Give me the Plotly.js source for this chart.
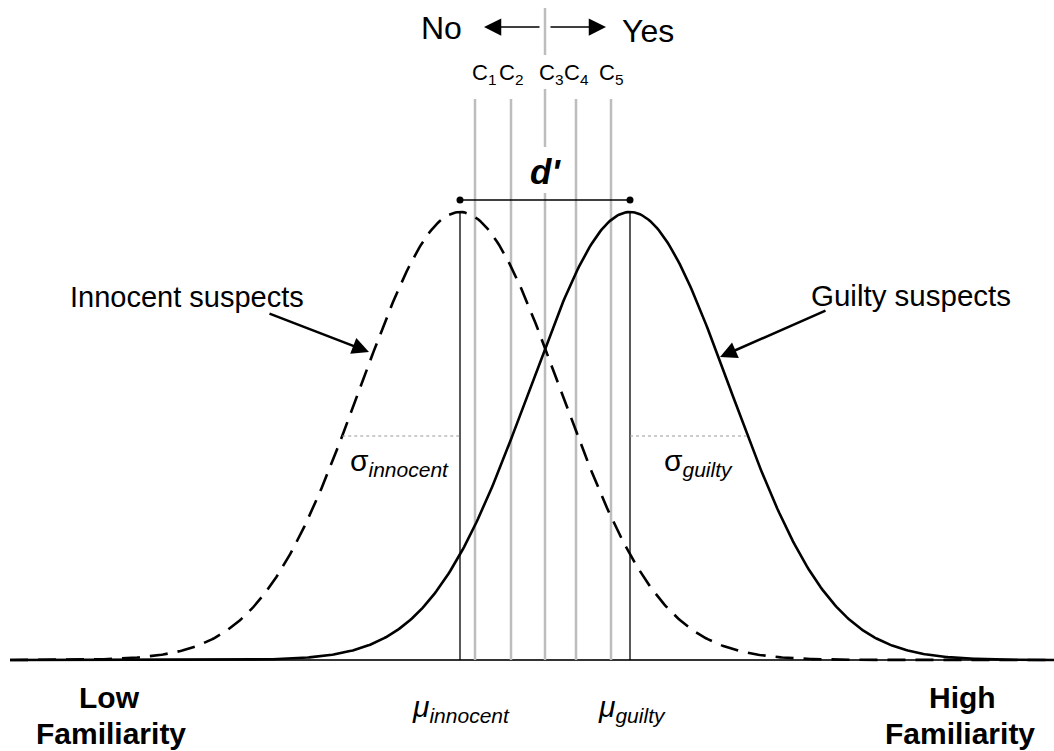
<!DOCTYPE html>
<html>
<head>
<meta charset="utf-8">
<script src="https://cdn.plot.ly/plotly-3.0.1.min.js"></script>
<style>html,body{margin:0;padding:0;background:#fff;}#chart{width:1054px;height:751px;}</style>
</head>
<body>
<div id="chart"></div>
<script>
// ---- data ----
var muInnocent = 0.0;
var muGuilty = 1.7;
var sigmaInnocent = 1.0;
var sigmaGuilty = 1.0;
var criteria = [0.15, 0.51, 0.85, 1.16, 1.51];
var criteriaLabels = ['C<sub>1</sub>', 'C<sub>2</sub>', 'C<sub>3</sub>', 'C<sub>4</sub>', 'C<sub>5</sub>'];
var xMin = -4.5, xMax = 5.94;

// pixel helpers for layout (plot spans full page)
function px2x(p){ return (p - 460) / 100; }
function px2y(p){ return (660 - p) / 448; }

function curve(mu, s){
  var xs = [], ys = [];
  var n = 600;
  for (var i = 0; i <= n; i++){
    var x = xMin + (xMax - xMin) * i / n;
    xs.push(x);
    ys.push(Math.exp(-0.5 * Math.pow((x - mu) / s, 2)));
  }
  return {x: xs, y: ys};
}
var ci = curve(muInnocent, sigmaInnocent);
var cg = curve(muGuilty, sigmaGuilty);
var halfW = Math.sqrt(2 * Math.log(2));

var FONT = 'Arial, "Liberation Sans", sans-serif';
var gray = '#bdbdbd';

var shapes = [];
// baseline
shapes.push({type:'line', xref:'x', yref:'y', x0:xMin, x1:xMax, y0:0, y1:0, line:{color:'#333', width:1.8}, layer:'below'});
// criterion lines
criteria.forEach(function(c, i){
  if (i === 2){
    shapes.push({type:'line', x0:c, x1:c, y0:px2y(8), y1:px2y(55), line:{color:gray, width:2.5}, layer:'below'});
    shapes.push({type:'line', x0:c, x1:c, y0:px2y(89), y1:px2y(147), line:{color:gray, width:2.5}, layer:'below'});
    shapes.push({type:'line', x0:c, x1:c, y0:px2y(193), y1:0, line:{color:gray, width:2.5}, layer:'below'});
  } else {
    shapes.push({type:'line', x0:c, x1:c, y0:px2y(99), y1:0, line:{color:gray, width:2.5}, layer:'below'});
  }
});
// mean lines
[muInnocent, muGuilty].forEach(function(m){
  shapes.push({type:'line', x0:m, x1:m, y0:0, y1:1, line:{color:'#000', width:1.3}});
});
// sigma lines
shapes.push({type:'line', x0:muInnocent - halfW * sigmaInnocent, x1:muInnocent, y0:0.5, y1:0.5, line:{color:'#999', width:1, dash:'dot'}});
shapes.push({type:'line', x0:muGuilty, x1:muGuilty + halfW * sigmaGuilty, y0:0.5, y1:0.5, line:{color:'#999', width:1, dash:'dot'}});
// d' line
var dY = px2y(200);
shapes.push({type:'line', x0:muInnocent, x1:muGuilty, y0:dY, y1:dY, line:{color:'#000', width:1.5}});

var traces = [
  {x: ci.x, y: ci.y, mode:'lines', line:{color:'#000', width:2.6, dash:'18px,10px'}, hoverinfo:'skip'},
  {x: cg.x, y: cg.y, mode:'lines', line:{color:'#000', width:2.6}, hoverinfo:'skip'},
  {x: [muInnocent, muGuilty], y: [dY, dY], mode:'markers', marker:{color:'#000', size:7}, hoverinfo:'skip'}
];

var ann = [];
function txt(x, y, text, size, opts){
  var a = {x:x, y:y, xref:'x', yref:'y', text:text, showarrow:false, font:{family:FONT, size:size, color:'#000'}};
  for (var k in opts) a[k] = opts[k];
  ann.push(a);
}
// No / Yes
txt(px2x(441), px2y(28), 'No', 32);
txt(px2x(648), px2y(31), 'Yes', 32);
ann.push({x:px2x(484), y:px2y(27), ax:px2x(541), ay:px2y(27), xref:'x', yref:'y', axref:'x', ayref:'y', text:'', showarrow:true, arrowhead:2, arrowsize:2.3, arrowwidth:1.5, arrowcolor:'#000'});
ann.push({x:px2x(606), y:px2y(27), ax:px2x(549), ay:px2y(27), xref:'x', yref:'y', axref:'x', ayref:'y', text:'', showarrow:true, arrowhead:2, arrowsize:2.3, arrowwidth:1.5, arrowcolor:'#000'});
// criterion labels
var labelShift = [9, 0, 6, 0, 0];
criteria.forEach(function(c, i){
  txt(c, px2y(74), criteriaLabels[i], 22, {xshift: labelShift[i]});
});
// d'
txt((muInnocent + muGuilty) / 2, px2y(171), "d'", 35, {font:{family:FONT, size:35, color:'#000', weight:'bold', style:'italic'}});
// suspects labels
txt(px2x(187), px2y(297), 'Innocent suspects', 29);
txt(px2x(911), px2y(295), 'Guilty suspects', 29.5);
ann.push({x:px2x(369), y:px2y(352), ax:px2x(268), ay:px2y(313), xref:'x', yref:'y', axref:'x', ayref:'y', text:'', showarrow:true, arrowhead:2, arrowsize:1.35, arrowwidth:2.5, arrowcolor:'#000'});
ann.push({x:px2x(720), y:px2y(357), ax:px2x(827), ay:px2y(310), xref:'x', yref:'y', axref:'x', ayref:'y', text:'', showarrow:true, arrowhead:2, arrowsize:1.35, arrowwidth:2.5, arrowcolor:'#000'});
// sigma labels
txt(px2x(399), px2y(462), 'σ<sub><i>innocent</i></sub>', 30);
txt(px2x(698), px2y(462), 'σ<sub><i>guilty</i></sub>', 30);
// mu labels
txt(muInnocent, px2y(708), '<i>μ</i><sub><i>innocent</i></sub>', 30, {xshift:1});
txt(muGuilty, px2y(708), '<i>μ</i><sub><i>guilty</i></sub>', 30, {xshift:2});
// familiarity labels
var bold = {family:FONT, size:30, color:'#000', weight:'bold'};
txt(px2x(109), px2y(697), '<b>Low</b>', 30, {font:bold});
txt(px2x(111), px2y(733), '<b>Familiarity</b>', 30, {font:bold, borderpad:0});
txt(px2x(962), px2y(697), '<b>High</b>', 30, {font:bold});
txt(px2x(960), px2y(733), '<b>Familiarity</b>', 30, {font:bold, borderpad:0});

var layout = {
  width:1054, height:751,
  margin:{l:0, r:0, t:0, b:0},
  paper_bgcolor:'#fff', plot_bgcolor:'#fff',
  showlegend:false,
  xaxis:{range:[px2x(0), px2x(1054)], visible:false, fixedrange:true},
  yaxis:{range:[px2y(751), px2y(0)], visible:false, fixedrange:true},
  shapes:shapes,
  annotations:ann,
  font:{family:FONT}
};
Plotly.newPlot('chart', traces, layout, {displayModeBar:false, staticPlot:true});
</script>
</body>
</html>
